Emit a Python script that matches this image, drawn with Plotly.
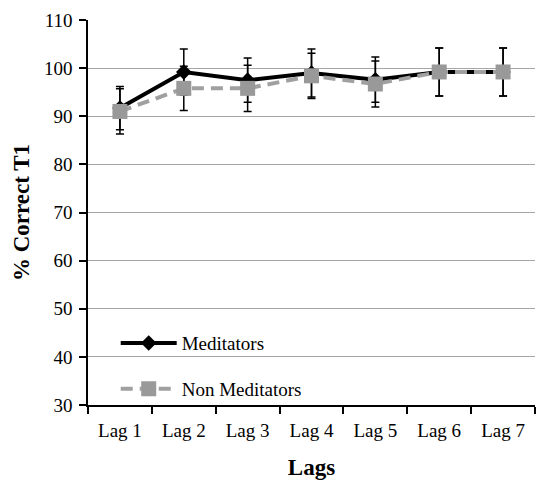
import plotly.graph_objects as go

lags = ["Lag 1", "Lag 2", "Lag 3", "Lag 4", "Lag 5", "Lag 6", "Lag 7"]
meditators = [91.7, 99.2, 97.5, 99.0, 97.6, 99.2, 99.2]
meditators_err = [4.5, 4.8, 4.6, 5.0, 4.7, 5.0, 5.0]
non_meditators = [91.0, 95.8, 95.8, 98.4, 96.7, 99.2, 99.2]
non_meditators_err = [4.7, 4.6, 4.8, 4.7, 4.8, 5.0, 5.0]
y_ticks = [30, 40, 50, 60, 70, 80, 90, 100, 110]

FONT = "Liberation Serif"

fig = go.Figure()
fig.add_trace(go.Scatter(
    x=lags, y=meditators, name="Meditators", mode="lines+markers",
    line=dict(color="black", width=4),
    marker=dict(symbol="diamond", size=12, color="black"),
    error_y=dict(type="data", array=meditators_err, visible=True,
                 color="black", thickness=1.5, width=4),
    legendgroup="a",
))
fig.add_trace(go.Scatter(
    x=lags, y=non_meditators, name="Non Meditators", mode="lines+markers",
    line=dict(color="#a0a0a0", width=4, dash="12px,7px"),
    marker=dict(symbol="square", size=15, color="#999999"),
    error_y=dict(type="data", array=non_meditators_err, visible=True,
                 color="black", thickness=1.5, width=4),
    legendgroup="b",
))

fig.update_layout(
    width=536, height=480,
    margin=dict(l=88, r=1, t=19.5, b=74.5),
    paper_bgcolor="white", plot_bgcolor="white",
    font=dict(family=FONT, size=19, color="black"),
    showlegend=True,
    legend=dict(x=0.062, y=0.21, xanchor="left", yanchor="top",
                bgcolor="rgba(0,0,0,0)", itemwidth=56,
                tracegroupgap=18, traceorder="grouped",
                font=dict(family=FONT, size=19, color="black")),
)
fig.update_xaxes(
    type="category", range=[-0.5, 6.5],
    showline=True, linecolor="black", linewidth=1.5,
    ticks="outside", tickson="boundaries", ticklen=7, tickcolor="black", tickwidth=1.5,
    showgrid=False, ticklabelstandoff=7,
    tickfont=dict(family=FONT, size=19),
    title=dict(text="<b>Lags</b>", font=dict(family=FONT, size=23), standoff=20),
)
fig.update_yaxes(
    range=[30, 110], tickvals=y_ticks,
    showline=True, linecolor="black", linewidth=1.5,
    ticks="outside", ticklen=7, tickcolor="black", tickwidth=1.5,
    showgrid=True, gridcolor="#a6a6a6", gridwidth=1, zeroline=False,
    ticklabelstandoff=3,
    tickfont=dict(family=FONT, size=19),
    title=dict(text="<b>% Correct T1</b>", font=dict(family=FONT, size=23), standoff=8),
)

fig.write_html("out.html", config={"displayModeBar": False},
               post_script="document.body.style.margin='0';")
